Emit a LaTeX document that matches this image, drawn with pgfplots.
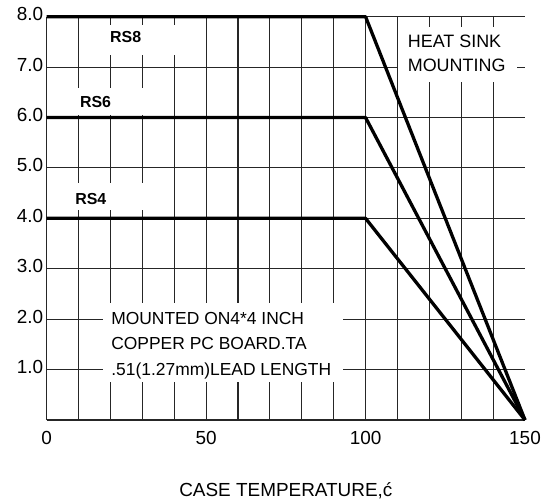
\documentclass[border=0pt]{standalone}
\usepackage{fontspec}
\setmainfont{Liberation Sans}
\usepackage{pgfplots}
\pgfplotsset{compat=1.18}

\begin{document}
\begin{tikzpicture}
\useasboundingbox (-46.7bp,-84bp) rectangle (500.3bp,420bp);
\begin{axis}[
    at={(0,0)}, anchor=south west,
    scale only axis,
    width=478.3bp, height=403.3bp,
    xmin=0, xmax=150,
    ymin=0, ymax=8,
    clip=false,
    axis lines*=left,
    axis line style={line width=1.1bp, black!85},
    xtick={0,50,100,150},
    ytick={1,2,...,8},
    minor xtick={0,10,...,140},
    xminorgrids=true,
    ymajorgrids=true,
    grid style={line width=1.1bp, black!85},
    minor grid style={line width=1.1bp, black!85},
    major tick length=0pt,
    minor tick length=0pt,
    /pgf/number format/assume math mode=true,
    tick label style={font=\fontsize{19}{19}\selectfont},
    x tick label style={yshift=-8bp},
    y tick label style={yshift=2.5bp, /pgf/number format/.cd, fixed, fixed zerofill, precision=1},
    xlabel={CASE TEMPERATURE,ć},
    xlabel style={font=\fontsize{19}{19}\selectfont, at={(axis description cs:0.5,0)}, anchor=north, yshift=-59bp},
]
% white patches behind the labels
\fill[white] (axis cs:17.6,0.75) rectangle (axis cs:92.9,2.32);
\fill[white] (axis cs:110.2,6.71) rectangle (axis cs:147.5,7.80);
\fill[white] (axis cs:13,7.24) rectangle (axis cs:42,7.84);
\fill[white] (axis cs:7.3,6.05) rectangle (axis cs:35.5,6.59);
\fill[white] (axis cs:7.3,4.17) rectangle (axis cs:35.5,4.70);

% RS8
\addplot[black, line width=3.3bp, line join=round] coordinates {
    (0,8) (100,8) (150,0)
};
% RS6
\addplot[black, line width=3.3bp, line join=round] coordinates {
    (0,6) (100,6) (150,0)
};
% RS4
\addplot[black, line width=3.3bp, line join=round] coordinates {
    (0,4) (100,4) (150,0)
};

\node[anchor=base west, inner sep=0pt, font=\bfseries\fontsize{16}{16}\selectfont] at (axis cs:19.85,7.48) {RS8};
\node[anchor=base west, inner sep=0pt, font=\bfseries\fontsize{16}{16}\selectfont] at (axis cs:10.4,6.19) {RS6};
\node[anchor=base west, inner sep=0pt, font=\bfseries\fontsize{16}{16}\selectfont] at (axis cs:8.9,4.265) {RS4};

\node[anchor=base west, inner sep=0pt, font=\fontsize{18}{18}\selectfont] at (axis cs:113.2,7.38) {HEAT SINK};
\node[anchor=base west, inner sep=0pt, font=\fontsize{18}{18}\selectfont] at (axis cs:113.2,6.92) {MOUNTING};

\node[anchor=base west, inner sep=0pt, font=\fontsize{17.5}{17.5}\selectfont] at (axis cs:20.2,1.90) {MOUNTED ON4*4 INCH};
\node[anchor=base west, inner sep=0pt, font=\fontsize{17.5}{17.5}\selectfont] at (axis cs:20.2,1.40) {COPPER PC BOARD.TA};
\node[anchor=base west, inner sep=0pt, font=\fontsize{17.5}{17.5}\selectfont] at (axis cs:20.2,0.88) {.51(1.27mm)LEAD LENGTH};
\end{axis}
\end{tikzpicture}
\end{document}
